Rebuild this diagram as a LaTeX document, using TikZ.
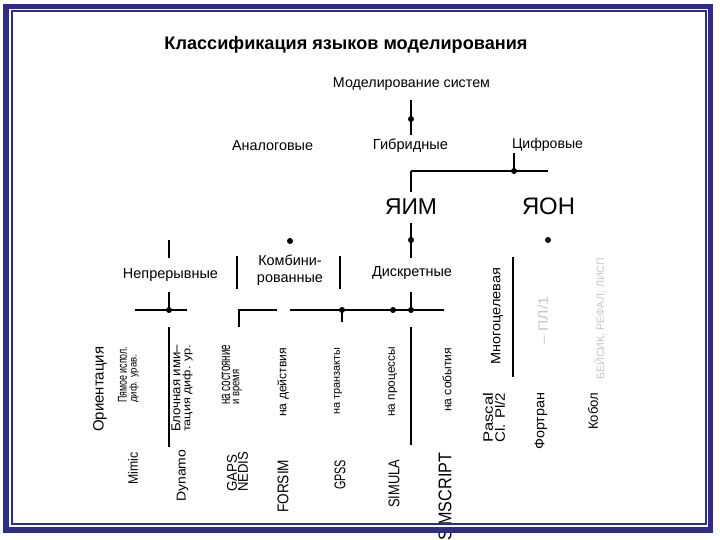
\documentclass[tikz,border=0pt]{standalone}
\usepackage{fontspec}
\setmainfont{Liberation Sans}
\usepackage{graphicx}
\newcommand{\FitW}[2]{\resizebox{#1}{!}{#2}}
\newcommand{\FitB}[3]{\resizebox*{#1}{#2}{#3}}
\definecolor{framec}{RGB}{45,45,135}
\definecolor{faint}{RGB}{200,200,200}
\begin{document}
\begin{tikzpicture}[x=1pt,y=-1pt,
  lbl/.style={inner sep=0pt, anchor=center},
  rot/.style={inner sep=0pt, rotate=90, anchor=west},
  dotc/.style={circle, fill=black, inner sep=0pt, minimum size=6pt},
  conn/.style={line width=1.2pt, black},
  frameouter/.style={line width=5.5pt, framec},
  frameinner/.style={line width=2pt, framec}]
\useasboundingbox (0,0) rectangle (720,540);
\fill[white] (0,0) rectangle (720,540);

% ---------- horizontal texts ----------
\node[lbl] (title) at (346,45) {\FitW{363pt}{\bfseries Классификация языков моделирования}};
\node[lbl] (ms) at (411.5,84) {\FitW{157pt}{Моделирование систем}};
\node[lbl] (an) at (272.5,146) {\FitW{81pt}{Аналоговые}};
\node[lbl] (gb) at (410.5,146) {\FitW{75pt}{Гибридные}};
\node[lbl] (cf) at (547.5,145) {\FitW{71pt}{Цифровые}};
\node[lbl] (yim) at (411,206.5) {\FitW{52pt}{ЯИМ}};
\node[lbl] (yon) at (548.5,206.5) {\FitW{53pt}{ЯОН}};
\node[lbl] (np) at (170.5,275) {\FitW{95pt}{Непрерывные}};
\node[lbl] (kb) at (290,270.5) {\resizebox{66pt}{!}{\begin{tabular}{@{}c@{}}Комбини-\\рованные\end{tabular}}};
\node[lbl] (ds) at (412,273) {\FitW{80pt}{Дискретные}};

% ---------- rotated texts ----------
\node[rot] (or) at (100,432) {\FitW{85pt}{Ориентация}};
\node[rot] (pr1) at (122.5,403) {\FitB{56pt}{9pt}{Пямое испол.}};
\node[rot] (pr2) at (134,403) {\FitB{48pt}{9.5pt}{диф. урав.}};
\node[rot] (bl1) at (176,432) {\FitB{87pt}{9pt}{Блочная ими--}};
\node[rot] (bl2) at (187.5,432) {\FitB{87pt}{10pt}{тация диф. ур.}};
\node[rot] (ns1) at (226,405) {\FitB{60pt}{8.5pt}{на состояние}};
\node[rot] (ns2) at (237.5,405) {\FitB{35pt}{9pt}{и время}};
\node[rot] (nd) at (283,417) {\FitW{69pt}{на действия}};
\node[rot] (nt) at (338,415) {\FitW{67pt}{на транзакты}};
\node[rot] (npr) at (393,417) {\FitW{70pt}{на процессы}};
\node[rot] (nsb) at (447,412) {\FitW{64pt}{на события}};
\node[rot] (mc) at (497,365) {\FitB{97pt}{12pt}{Многоцелевая}};
\node[rot] (mimic) at (133,485) {\FitB{32pt}{10pt}{Mimic}};
\node[rot] (dyn) at (182.5,502) {\FitB{52pt}{11.5pt}{Dynamo}};
\node[rot] (gaps1) at (232,492) {\FitB{37pt}{10pt}{GAPS}};
\node[rot] (gaps2) at (243,492) {\FitB{40pt}{10pt}{NEDIS}};
\node[rot] (fors) at (283,513) {\FitB{53pt}{11pt}{FORSIM}};
\node[rot] (gpss) at (340,490) {\FitB{30pt}{11pt}{GPSS}};
\node[rot] (simu) at (394,508) {\FitB{48pt}{11pt}{SIMULA}};
\node[rot] (sims) at (445,541) {\FitB{88pt}{13pt}{SIMSCRIPT}};
\node[rot] (pas1) at (488,443) {\FitB{50pt}{10pt}{Pascal}};
\node[rot] (pas2) at (500,443) {\FitB{50pt}{10pt}{Cl. Pl/2}};
\node[rot] (fort) at (541,450) {\FitB{57pt}{12.5pt}{Фортран}};
\node[rot] (kob) at (593,430) {\FitB{37pt}{10pt}{Кобол}};
\node[rot, text=faint] (pl1) at (543,345) {\FitB{48pt}{10pt}{-- ПЛ/1}};
\node[rot, text=faint] (bas) at (600,380) {\FitB{122pt}{11pt}{БЕЙСИК, РЕФАЛ, ЛИСП}};

% ---------- dots ----------
\node[dotc] (d-ms) at (411,119) {};
\node[dotc] (d-cf) at (514,171) {};
\node[dotc] (d-yim) at (411,240) {};
\node[dotc] (d-yon) at (548,240) {};
\node[dotc] (d-kb) at (290,241) {};
\node[dotc] (d-np) at (169,310) {};
\node[dotc] (d-tr) at (342,310) {};
\node[dotc] (d-pr) at (393,310) {};
\node[dotc] (d-ds) at (411,310) {};

% ---------- connector end points ----------
\coordinate (ms-s) at (411,100);
\coordinate (gb-n) at (411,135);
\coordinate (cf-s) at (514,153);
\coordinate (h1-l) at (411,171);
\coordinate (h1-r) at (548,171);
\coordinate (yim-n) at (411,192);
\coordinate (yim-s) at (411,223);
\coordinate (ds-n) at (411,258);
\coordinate (np-n1) at (169,240);
\coordinate (np-n2) at (169,258);
\coordinate (kb-l1) at (237,256);
\coordinate (kb-l2) at (237,289);
\coordinate (kb-r1) at (340,256);
\coordinate (kb-r2) at (340,289);
\coordinate (np-s) at (169,292);
\coordinate (h2-l) at (135,310);
\coordinate (h2-r) at (187,310);
\coordinate (v2-t) at (169,327);
\coordinate (v2-b) at (169,447);
\coordinate (br-r) at (277,310);
\coordinate (br-c) at (239,310);
\coordinate (br-b) at (239,327);
\coordinate (h3-l) at (290,310);
\coordinate (h3-r) at (444,310);
\coordinate (tr-b) at (342,322);
\coordinate (ds-s) at (411,292);
\coordinate (v3-t) at (411,327);
\coordinate (v3-b) at (411,445);
\coordinate (mc-t) at (513,257);
\coordinate (mc-b) at (513,377);

% ---------- connectors ----------
\draw[conn] (ms-s) -- (d-ms.center) -- (gb-n);
\draw[conn] (cf-s) -- (d-cf.center);
\draw[conn] (h1-l) -- (d-cf.center) -- (h1-r);
\draw[conn] (h1-l) -- (yim-n);
\draw[conn] (yim-s) -- (d-yim.center) -- (ds-n);
\draw[conn] (np-n1) -- (np-n2);
\draw[conn] (kb-l1) -- (kb-l2);
\draw[conn] (kb-r1) -- (kb-r2);
\draw[conn] (np-s) -- (d-np.center);
\draw[conn] (h2-l) -- (d-np.center) -- (h2-r);
\draw[conn] (v2-t) -- (v2-b);
\draw[conn] (br-r) -- (br-c) -- (br-b);
\draw[conn] (h3-l) -- (d-tr.center) -- (d-pr.center) -- (d-ds.center) -- (h3-r);
\draw[conn] (d-tr.center) -- (tr-b);
\draw[conn] (ds-s) -- (d-ds.center);
\draw[conn] (v3-t) -- (v3-b);
\draw[conn] (mc-t) -- (mc-b);

% ---------- frame ----------
\draw[frameouter] (6,6.75) rectangle (710.5,530);
\draw[frameinner] (12,11) rectangle (706,524);
\end{tikzpicture}
\end{document}
